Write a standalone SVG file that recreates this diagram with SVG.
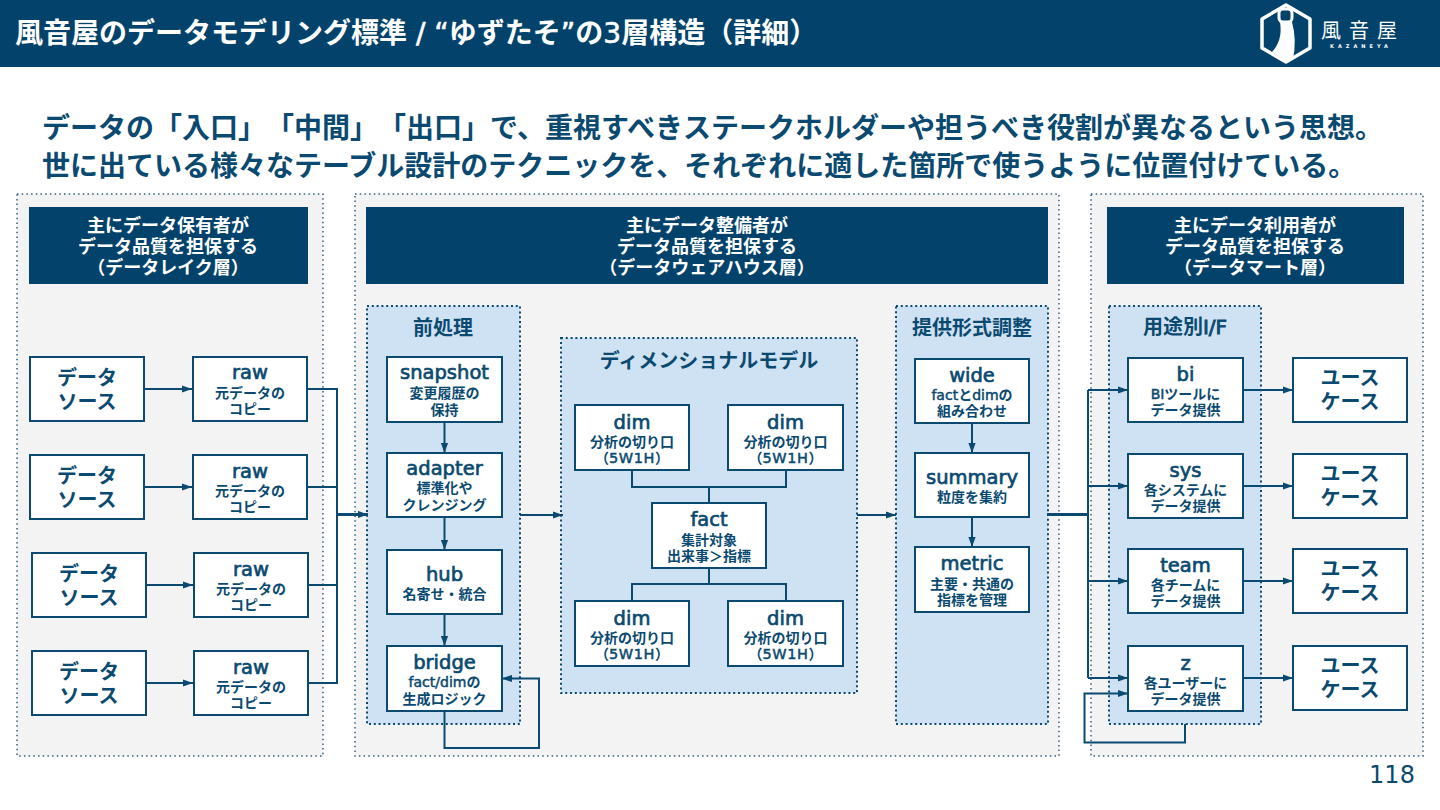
<svg xmlns="http://www.w3.org/2000/svg" width="1440" height="810" viewBox="0 0 1440 810">
<style>
text{font-family:"DejaVu Sans","Noto Sans CJK JP",sans-serif;fill:#0b4a70;text-anchor:middle;font-weight:700;text-spacing-trim:space-all;font-feature-settings:"chws" 0,"palt" 0}
.panel{fill:#f3f3f3;stroke:#2f5f7d;stroke-width:1.500;stroke-dasharray:1.500 3.200}
.blue{fill:#cfe2f3;stroke:#0b4a70;stroke-width:2;stroke-dasharray:2 2.800}
.hd{fill:#03436b}
.hd-t{fill:#fff;font-size:18px}
.box{fill:#fff;stroke:#0b4a70;stroke-width:2}
.big{font-size:20px}
.n{font-size:19.500px;font-weight:400;stroke:#0b4a70;stroke-width:.7}
.s{font-size:14px}
.pt{font-size:20px}
.l{font-weight:400;stroke:#0b4a70;stroke-width:.5}
.w{font-size:14.500px;letter-spacing:.6px}
.i{stroke-width:.9}
.tl{font-weight:400;stroke:#fff;stroke-width:.6}
.c{fill:none;stroke:#0b4a70;stroke-width:2}
.t{fill:none;stroke:#0b4a70;stroke-width:3}
.h{font-size:28px}
</style>
<defs>
<marker id="a" markerUnits="userSpaceOnUse" markerWidth="11" markerHeight="8" refX="10" refY="4" orient="auto"><path d="M0 .4L10 4L0 7.600Z" fill="#0b4a70"/></marker>
</defs>
<rect id="header-bar" width="1440" height="67" fill="#03436b"/>
<text x="15" y="42.500" style="fill:#fff;font-size:28px;text-anchor:start">風音屋のデータモデリング標準<tspan class="tl"> / “</tspan>ゆずたそ<tspan class="tl">”</tspan>の<tspan class="tl">3</tspan>層構造（詳細）</text>
<g id="logo">
<path d="M1286 5L1310 19V48L1286 62L1262 48V19Z" fill="none" stroke="#fff" stroke-width="3.500" stroke-linejoin="round"/>
<path d="M1280 22H1292Q1297 40 1293 59L1286 61L1272 52Q1283 40 1280 22Z" fill="#fff"/>
<rect x="1279" y="9" width="13" height="13" rx="4" fill="#03436b" stroke="#fff" stroke-width="3"/>
<text x="1363" y="38" style="fill:#fff;font-size:20px;font-weight:400;font-family:'Noto Sans CJK JP',sans-serif;letter-spacing:8px">風音屋</text>
<text x="1361" y="48" style="fill:#fff;font-size:5px;letter-spacing:4px">KAZANEYA</text>
</g>
<text x="42" y="137.500" class="h" style="text-anchor:start">データの「入口」「中間」「出口」で、重視すべきステークホルダーや担うべき役割が異なるという思想。</text>
<text x="42" y="175.500" class="h" style="text-anchor:start">世に出ている様々なテーブル設計のテクニックを、それぞれに適した箇所で使うように位置付けている。</text>

<g id="panels">
<rect class="panel" x="17" y="194" width="306" height="562"/>
<rect class="panel" x="355" y="194" width="704" height="562"/>
<rect class="panel" x="1091" y="194" width="332" height="562"/>
</g>
<g id="head-lake"><rect class="hd" x="29" y="207" width="279" height="77"/><text class="hd-t" x="168" y="232">主にデータ保有者が</text><text class="hd-t" x="168" y="253">データ品質を担保する</text><text class="hd-t" x="168" y="274">（データレイク層）</text></g>
<g id="head-dwh"><rect class="hd" x="366" y="207" width="682" height="77"/><text class="hd-t" x="707" y="232">主にデータ整備者が</text><text class="hd-t" x="707" y="253">データ品質を担保する</text><text class="hd-t" x="707" y="274">（データウェアハウス層）</text></g>
<g id="head-mart"><rect class="hd" x="1107" y="207" width="297" height="77"/><text class="hd-t" x="1255" y="232">主にデータ利用者が</text><text class="hd-t" x="1255" y="253">データ品質を担保する</text><text class="hd-t" x="1255" y="274">（データマート層）</text></g>

<g id="group-pre"><rect class="blue" x="367" y="306" width="153" height="418"/><text class="pt" x="443" y="335">前処理</text></g>
<g id="group-dim"><rect class="blue" x="561" y="338" width="296" height="355"/><text class="pt" x="709" y="368">ディメンショナルモデル</text></g>
<g id="group-fmt"><rect class="blue" x="896" y="306" width="152" height="418"/><text class="pt" x="972" y="335">提供形式調整</text></g>
<g id="group-if"><rect class="blue" x="1109" y="306" width="152" height="418"/><text class="pt" x="1185" y="334">用途別<tspan class="l i">I/F</tspan></text></g>

<g id="connectors">
<path class="c" marker-end="url(#a)" d="M144 389H192"/>
<path class="c" marker-end="url(#a)" d="M144 487H192"/>
<path class="c" marker-end="url(#a)" d="M146 585H193"/>
<path class="c" marker-end="url(#a)" d="M146 683H193"/>
<path class="c" d="M307 389H337V683H308"/>
<path class="c" d="M307 487H337"/>
<path class="c" d="M308 585H337"/>
<path class="t" marker-end="url(#a)" d="M337 514.500H368"/>
<path class="c" marker-end="url(#a)" d="M444.500 422V453"/>
<path class="c" marker-end="url(#a)" d="M444.500 517V550"/>
<path class="c" marker-end="url(#a)" d="M444.500 614V646"/>
<path class="c" marker-end="url(#a)" d="M444.500 711V748H539V678.500H502"/>
<path class="c" marker-end="url(#a)" d="M520 515H563"/>
<path class="c" d="M632 470V487H786V470M709 487V503"/>
<path class="c" d="M709 568V584H632V601M709 584H786V601"/>
<path class="c" marker-end="url(#a)" d="M857 515H896"/>
<path class="c" marker-end="url(#a)" d="M972 423V453"/>
<path class="c" marker-end="url(#a)" d="M972 517V547"/>
<path class="t" d="M1047 514.500H1088"/>
<path class="c" d="M1088 390V678"/>
<path class="c" marker-end="url(#a)" d="M1088 390H1128"/>
<path class="c" marker-end="url(#a)" d="M1088 486H1128"/>
<path class="c" marker-end="url(#a)" d="M1088 581H1128"/>
<path class="c" marker-end="url(#a)" d="M1088 678H1128"/>
<path class="c" marker-end="url(#a)" d="M1185 724V742.500H1084.500V693.500H1128"/>
<path class="c" marker-end="url(#a)" d="M1243 390H1293"/>
<path class="c" marker-end="url(#a)" d="M1243 486H1293"/>
<path class="c" marker-end="url(#a)" d="M1243 581H1293"/>
<path class="c" marker-end="url(#a)" d="M1243 678H1293"/>
</g>

<g id="src1"><rect class="box" x="30" y="357" width="114" height="64"/><text class="big" x="87" y="385">データ</text><text class="big" x="87" y="409">ソース</text></g>
<g id="src2"><rect class="box" x="30" y="455" width="114" height="64"/><text class="big" x="87" y="483">データ</text><text class="big" x="87" y="507">ソース</text></g>
<g id="src3"><rect class="box" x="32" y="553" width="114" height="64"/><text class="big" x="89" y="581">データ</text><text class="big" x="89" y="605">ソース</text></g>
<g id="src4"><rect class="box" x="32" y="651" width="114" height="64"/><text class="big" x="89" y="679">データ</text><text class="big" x="89" y="703">ソース</text></g>

<g id="raw1"><rect class="box" x="193" y="357" width="114" height="64"/><text class="n" x="250" y="379">raw</text><text class="s" x="250" y="398">元データの</text><text class="s" x="250" y="414">コピー</text></g>
<g id="raw2"><rect class="box" x="193" y="455" width="114" height="64"/><text class="n" x="250" y="478">raw</text><text class="s" x="250" y="496">元データの</text><text class="s" x="250" y="512">コピー</text></g>
<g id="raw3"><rect class="box" x="194" y="553" width="114" height="64"/><text class="n" x="251" y="576">raw</text><text class="s" x="251" y="594">元データの</text><text class="s" x="251" y="610">コピー</text></g>
<g id="raw4"><rect class="box" x="194" y="651" width="114" height="64"/><text class="n" x="251" y="674">raw</text><text class="s" x="251" y="692">元データの</text><text class="s" x="251" y="708">コピー</text></g>

<g id="snapshot"><rect class="box" x="387" y="357" width="115" height="65"/><text class="n" x="444.500" y="379">snapshot</text><text class="s" x="444.500" y="398">変更履歴の</text><text class="s" x="444.500" y="415">保持</text></g>
<g id="adapter"><rect class="box" x="387" y="453" width="115" height="64"/><text class="n" x="444.500" y="475">adapter</text><text class="s" x="444.500" y="493">標準化や</text><text class="s" x="444.500" y="510">クレンジング</text></g>
<g id="hub"><rect class="box" x="387" y="550" width="115" height="64"/><text class="n" x="444.500" y="581">hub</text><text class="s" x="444.500" y="599">名寄せ・統合</text></g>
<g id="bridge"><rect class="box" x="387" y="646" width="115" height="65"/><text class="n" x="444.500" y="669">bridge</text><text class="s" x="444.500" y="687"><tspan class="l">fact/dim</tspan>の</text><text class="s" x="444.500" y="704">生成ロジック</text></g>

<g id="dim1"><rect class="box" x="575" y="405" width="114" height="65"/><text class="n" x="632" y="429">dim</text><text class="s" x="632" y="447">分析の切り口</text><text class="s" x="632" y="463">（<tspan class="l w">5W1H</tspan>）</text></g>
<g id="dim2"><rect class="box" x="728" y="405" width="115" height="65"/><text class="n" x="785.500" y="429">dim</text><text class="s" x="785.500" y="447">分析の切り口</text><text class="s" x="785.500" y="463">（<tspan class="l w">5W1H</tspan>）</text></g>
<g id="fact"><rect class="box" x="652" y="503" width="114" height="65"/><text class="n" x="709" y="526">fact</text><text class="s" x="709" y="545">集計対象</text><text class="s" x="709" y="561">出来事＞指標</text></g>
<g id="dim3"><rect class="box" x="575" y="601" width="114" height="65"/><text class="n" x="632" y="625">dim</text><text class="s" x="632" y="643">分析の切り口</text><text class="s" x="632" y="659">（<tspan class="l w">5W1H</tspan>）</text></g>
<g id="dim4"><rect class="box" x="728" y="601" width="115" height="65"/><text class="n" x="785.500" y="625">dim</text><text class="s" x="785.500" y="643">分析の切り口</text><text class="s" x="785.500" y="659">（<tspan class="l w">5W1H</tspan>）</text></g>

<g id="wide"><rect class="box" x="915" y="359" width="114" height="64"/><text class="n" x="972" y="382">wide</text><text class="s" x="972" y="400"><tspan class="l">fact</tspan>と<tspan class="l">dim</tspan>の</text><text class="s" x="972" y="416">組み合わせ</text></g>
<g id="summary"><rect class="box" x="915" y="453" width="114" height="64"/><text class="n" x="972" y="484">summary</text><text class="s" x="972" y="502">粒度を集約</text></g>
<g id="metric"><rect class="box" x="915" y="547" width="114" height="65"/><text class="n" x="972" y="570">metric</text><text class="s" x="972" y="589">主要・共通の</text><text class="s" x="972" y="605">指標を管理</text></g>

<g id="bi"><rect class="box" x="1128" y="358" width="115" height="64"/><text class="n" x="1185.500" y="381">bi</text><text class="s" x="1185.500" y="399"><tspan class="l">BI</tspan>ツールに</text><text class="s" x="1185.500" y="415">データ提供</text></g>
<g id="sys"><rect class="box" x="1128" y="454" width="115" height="64"/><text class="n" x="1185.500" y="477">sys</text><text class="s" x="1185.500" y="495">各システムに</text><text class="s" x="1185.500" y="511">データ提供</text></g>
<g id="team"><rect class="box" x="1128" y="549" width="115" height="64"/><text class="n" x="1185.500" y="572">team</text><text class="s" x="1185.500" y="590">各チームに</text><text class="s" x="1185.500" y="606">データ提供</text></g>
<g id="z"><rect class="box" x="1128" y="646" width="115" height="65"/><text class="n" x="1185.500" y="670">z</text><text class="s" x="1185.500" y="688">各ユーザーに</text><text class="s" x="1185.500" y="704">データ提供</text></g>

<g id="uc1"><rect class="box" x="1293" y="358" width="114" height="64"/><text class="big" x="1350" y="385">ユース</text><text class="big" x="1350" y="409">ケース</text></g>
<g id="uc2"><rect class="box" x="1293" y="454" width="114" height="64"/><text class="big" x="1350" y="481">ユース</text><text class="big" x="1350" y="505">ケース</text></g>
<g id="uc3"><rect class="box" x="1293" y="549" width="114" height="64"/><text class="big" x="1350" y="576">ユース</text><text class="big" x="1350" y="600">ケース</text></g>
<g id="uc4"><rect class="box" x="1293" y="646" width="114" height="64"/><text class="big" x="1350" y="673">ユース</text><text class="big" x="1350" y="697">ケース</text></g>

<text x="1392" y="783" style="font-size:24px;font-weight:400">118</text>
</svg>
